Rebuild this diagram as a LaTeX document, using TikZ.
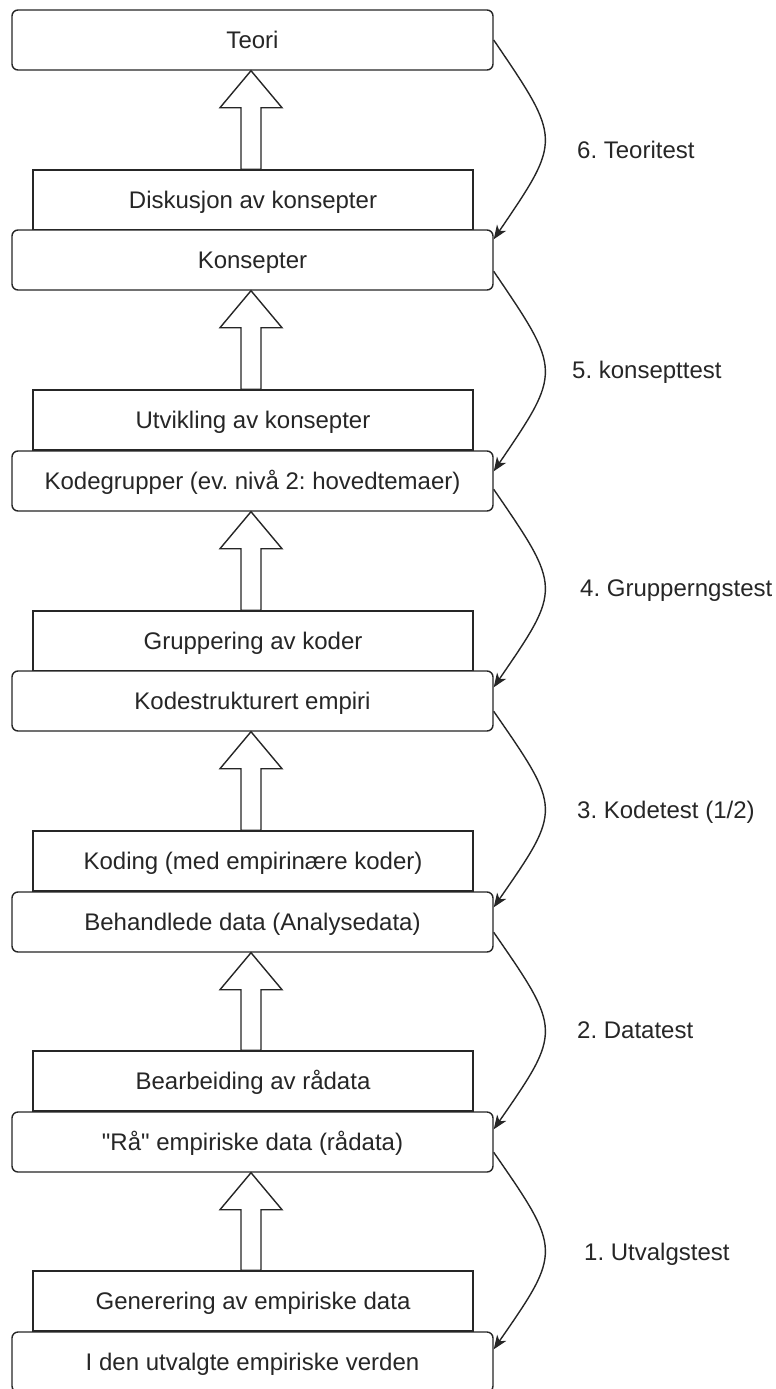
\documentclass[tikz,border=0pt]{standalone}
\usepackage{fontspec}
\setmainfont{Liberation Sans}[Ligatures=TeXOff]
\usetikzlibrary{arrows.meta,calc}
\definecolor{ink}{gray}{0.15}
\frenchspacing
\begin{document}
\begin{tikzpicture}[x=1pt,y=-1pt,
  txt/.style={font=\fontsize{24}{28}\selectfont, text=ink, text height=17.2pt, text depth=0pt},
  stage/.style={txt, draw=ink, line width=1.4pt, fill=white, rounded corners=6pt,
    minimum width=481pt, minimum height=60pt, inner sep=0pt},
  process/.style={txt, draw=ink, line width=1.4pt, fill=white,
    minimum width=440pt, minimum height=60pt, inner sep=0pt},
  lift/.style={draw=ink, line width=1.4pt, fill=white, line join=miter},
  test/.style={draw=ink, line width=1.4pt, -{Stealth[length=14pt,width=11pt,inset=4pt]}},
  testlabel/.style={txt, anchor=west, inner sep=0pt}]

\useasboundingbox (0,0) rectangle (776,1389);
\clip (0,0) rectangle (776,1389);

% work steps (plain rectangles), each sitting on top of a stage box
\node[process] (disk)  at (253,200)  {Diskusjon av konsepter};
\node[process] (utv)   at (253,420)  {Utvikling av konsepter};
\node[process] (grp)   at (253,641)  {Gruppering av koder};
\node[process] (kod)   at (253,861)  {Koding (med empirinære koder)};
\node[process] (bearb) at (253,1081) {Bearbeiding av rådata};
\node[process] (gen)   at (253,1301) {Generering av empiriske data};

% stages (rounded boxes)
\node[stage] (teori)  at (252.5,40)   {Teori};
\node[stage] (kons)   at (252.5,260)  {Konsepter};
\node[stage] (kgrp)   at (252.5,481)  {Kodegrupper (ev. nivå 2: hovedtemaer)};
\node[stage] (kstr)   at (252.5,701)  {Kodestrukturert empiri};
\node[stage] (beh)    at (252.5,922)  {Behandlede data (Analysedata)};
\node[stage] (raa)    at (252.5,1142) {"Rå" empiriske data (rådata)};
\node[stage] (verden) at (252.5,1362) {I den utvalgte empiriske verden};

% hollow block arrows from each work step up to the stage above
\foreach \up/\low in {teori/disk, kons/utv, kgrp/grp, kstr/kod, beh/bearb, raa/gen}{
  \draw[lift] let \p1=(\up.south), \p2=(\low.north) in
    (\x1-1.5pt,\y1) -- (\x1+29.5pt,\y1-37pt) -- (\x1+8.5pt,\y1-37pt)
    -- (\x1+8.5pt,\y2) -- (\x1-11.5pt,\y2) -- (\x1-11.5pt,\y1-37pt)
    -- (\x1-32.5pt,\y1-37pt) -- cycle;
}

% curved test connectors down the right-hand side
\draw[test] (teori.east) .. controls +(68,100) and +(68,-100) .. ([yshift=-10pt]kons.north east);
\draw[test] ([yshift=-42pt]kons.north east) .. controls +(68,100) and +(68,-100) .. ([yshift=-21pt]kgrp.north east);
\draw[test] ([yshift=-39pt]kgrp.north east) .. controls +(68,99) and +(68,-99) .. ([yshift=-17pt]kstr.north east);
\draw[test] ([yshift=-41pt]kstr.north east) .. controls +(68,98) and +(68,-98) .. ([yshift=-16pt]beh.north east);
\draw[test] ([yshift=-41pt]beh.north east) .. controls +(68,98) and +(68,-98) .. ([yshift=-18pt]raa.north east);
\draw[test] ([yshift=-41pt]raa.north east) .. controls +(68,98) and +(68,-98) .. ([yshift=-18pt]verden.north east);

% test labels
\node[testlabel] (t6) at (577,150)  {6. Teoritest};
\node[testlabel] (t5) at (572,370)  {5. konsepttest};
\node[testlabel] (t4) at (580,588)  {4. Grupperngstest};
\node[testlabel] (t3) at (577,810)  {3. Kodetest (1/2)};
\node[testlabel] (t2) at (577,1030) {2. Datatest};
\node[testlabel] (t1) at (584,1252) {1. Utvalgstest};
\end{tikzpicture}
\end{document}
